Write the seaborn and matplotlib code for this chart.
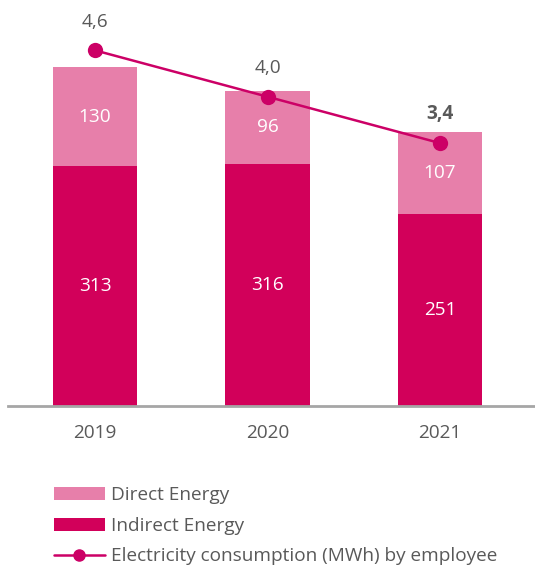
import numpy as np
import pandas as pd
import matplotlib
matplotlib.use("Agg")
import matplotlib.pyplot as plt
import seaborn as sns
from matplotlib.patches import Patch
from matplotlib.lines import Line2D

# -----------------------------
# Data
# -----------------------------
years = ["2019", "2020", "2021"]
indirect_energy = [313, 316, 251]
direct_energy = [130, 96, 107]
consumption_per_employee = [4.6, 4.0, 3.4]
consumption_labels = ["4,6", "4,0", "3,4"]

DARK = "#D2005A"
LIGHT = "#E77FAA"
LINE = "#CC0066"
TEXT = "#595959"
FS = 13.7

sns.set_style("white")
plt.rcParams["font.family"] = ["Open Sans", "DejaVu Sans"]

df = pd.DataFrame({
    "year": years,
    "indirect": indirect_energy,
    "direct": direct_energy,
    "per_employee": consumption_per_employee,
})
df["total"] = df["indirect"] + df["direct"]

fig = plt.figure(figsize=(5.35, 5.71), dpi=100)
ax = fig.add_axes([0.015, 0.289, 0.985, 0.70])

# stacked bars: total (light) then indirect (dark) on top
sns.barplot(data=df, x="year", y="total", color=LIGHT, width=0.49,
            saturation=1, ax=ax, linewidth=0)
sns.barplot(data=df, x="year", y="indirect", color=DARK, width=0.49,
            saturation=1, ax=ax, linewidth=0)

for i, row in df.iterrows():
    ax.text(i, row["indirect"] / 2, f"{row['indirect']}", ha="center",
            va="center", color="white", fontsize=FS)
    ax.text(i, row["indirect"] + row["direct"] / 2, f"{row['direct']}",
            ha="center", va="center", color="white", fontsize=FS)

ax.set_xlim(-0.504, 2.55)
ax.set_ylim(0, 522)
ax.set_xlabel("")
ax.set_ylabel("")
ax.set_yticks([])
for s in ["top", "right", "left"]:
    ax.spines[s].set_visible(False)
ax.spines["bottom"].set_color("#A6A6A6")
ax.spines["bottom"].set_linewidth(2)
ax.tick_params(axis="x", length=0, labelsize=FS, labelcolor=TEXT, pad=13)

# line on secondary axis
ax2 = ax.twinx()
sns.lineplot(x=np.arange(len(years)), y=consumption_per_employee, ax=ax2,
             color=LINE, linewidth=1.8, marker="o", markersize=11,
             markeredgewidth=0)
ax2.set_ylim(0, 5.17)
ax2.set_yticks([])
for s in ax2.spines.values():
    s.set_visible(False)
for i, (v, lab) in enumerate(zip(consumption_per_employee, consumption_labels)):
    ax2.text(i, v + 0.25, lab, ha="center", va="bottom", color=TEXT,
             fontsize=FS, fontweight="bold" if i == 2 else "normal")

handles = [
    Patch(facecolor=LIGHT, edgecolor="none", label="Direct Energy"),
    Patch(facecolor=DARK, edgecolor="none", label="Indirect Energy"),
    Line2D([], [], color=LINE, linewidth=1.8, marker="o", markersize=8,
           label="Electricity consumption (MWh) by employee"),
]
leg = fig.legend(handles=handles, loc="upper left",
                 bbox_to_anchor=(0.10, 0.148), frameon=False, fontsize=FS,
                 handlelength=2.7, handletextpad=0.3, labelspacing=0.65,
                 borderpad=0, borderaxespad=0)
for t in leg.get_texts():
    t.set_color(TEXT)

fig.savefig("out.png", dpi=100)
